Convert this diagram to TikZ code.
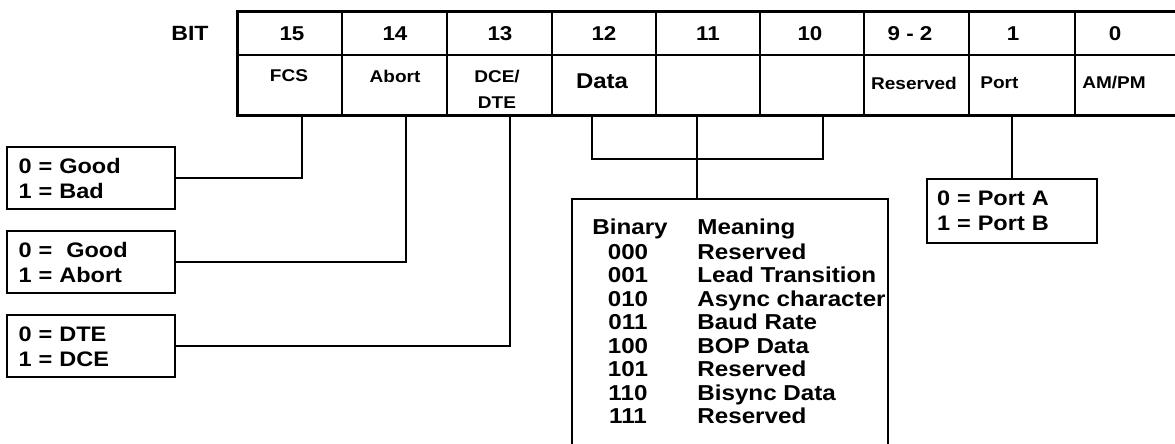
\documentclass[tikz,border=0pt]{standalone}
\usepackage{fontspec}
\setmainfont{Liberation Sans}[FakeStretch=1.12]
\usepackage{tikz}
\usetikzlibrary{positioning, calc}
\tikzset{
  cell/.style={draw, line width=1pt, inner sep=0pt, outer sep=0pt},
  num/.style={font=\fontsize{10}{12}\selectfont\bfseries, inner sep=0pt},
  lbl/.style={font=\fontsize{8.5}{13}\selectfont\bfseries, align=center, inner sep=0pt},
  valbox/.style={
    draw, line width=1pt, align=left, inner xsep=6pt, text width=72pt,
    minimum height=31pt, font=\fontsize{10.5}{12.5}\selectfont\bfseries
  },
  conn/.style={line width=1pt},
  bintxt/.style={font=\fontsize{10.8}{12}\selectfont\bfseries, inner sep=0pt},
}
\begin{document}
\begin{tikzpicture}[x=0.5pt, y=-0.5pt]
    \useasboundingbox (0,0) rectangle (1175,444);

    \foreach \l/\r/\n/\nx [count=\i] in {237/342/15/292, 342/447/14/395,
        447/552/13/500, 552/656/12/604, 656/760/11/708, 760/864/10/810,
        864/969/9 - 2/910, 969/1075/1/1013, 1075/1178/0/1115} {
      \node[cell, minimum width={(\r-\l)*0.5pt}, minimum height=21.5pt]
        (t\i) at ({(\l+\r)/2},33.5) {};
      \node[cell, minimum width={(\r-\l)*0.5pt}, minimum height=30.5pt]
        (f\i) at ({(\l+\r)/2},85.5) {};
      \node[num] (n\i) at (\nx,33.5) {\n};
    }
    \draw[line width=1.5pt] (t1.north west) rectangle (f9.south east);

    \node[num, font=\fontsize{10.3}{12}\selectfont\bfseries] (bit) at (190,33.5) {BIT};

    \node[lbl] (fcs) at (289,76) {FCS};
    \node[lbl] (abort) at (395,76) {Abort};
    \node[lbl] (dce) at (497,89) {DCE/\\DTE};
    \node[lbl, font=\fontsize{10.7}{12}\selectfont\bfseries] (data) at (602,81) {Data};
    \node[lbl] (res) at (914,83) {Reserved};
    \node[lbl, anchor=west] (port) at (980,83) {Port};
    \node[lbl] (ampm) at (1114,83) {AM/PM};

    \node[valbox] (fcsval) at (90.5,178) {0 = Good\\1 = Bad};
    \node[valbox] (abortval) at (90.5,262.5) {0 = \ Good\\1 = Abort};
    \node[valbox] (dceval) at (90.5,346.5) {0 = DTE\\1 = DCE};
    \draw[conn] (fcsval.east) -| ([xshift=6.25pt]f1.south);
    \draw[conn] (abortval.east) -| ([xshift=5.75pt]f2.south);
    \draw[conn] (dceval.east) -| ([xshift=5.25pt]f3.south);

    \node[valbox, text width=75pt, inner xsep=5pt, minimum height=32pt]
      (portval) at (1012,211) {0 = Port A\\1 = Port B};
    \draw[conn] (portval.north) -- (portval.north |- f8.south);

    \coordinate (brl) at ([xshift=-6pt]f4.south);
    \coordinate (brr) at ([xshift=5.5pt]f6.south);
    \coordinate (brm) at ([xshift=-5.5pt]f5.south);
    \draw[conn] (brl) -- ++(0,43) -| (brr);

    \node[minimum width=157.5pt, minimum height=130pt, inner sep=0pt, anchor=north west]
      (binbox) at (572,199) {};
    \draw[conn] (binbox.south west) -- (binbox.north west)
      -- (binbox.north east) -- (binbox.south east);
    \draw[conn] (brm) -- (brm |- binbox.north);

    \node[bintxt, anchor=base west] (binhd) at (592,234.5) {Binary};
    \node[bintxt, anchor=base west] (meanhd) at (697,234.5) {Meaning};
    \foreach \b/\m [count=\k] in {000/Reserved, 001/Lead Transition,
        010/Async character, 011/Baud Rate, 100/BOP Data, 101/Reserved,
        110/Bisync Data, 111/Reserved} {
      \node[bintxt, anchor=base] (code\k) at (628,{259.5+23.43*(\k-1)}) {\b};
      \node[bintxt, anchor=base west] (mean\k) at (697,{259.5+23.43*(\k-1)}) {\m};
    }
\end{tikzpicture}
\end{document}
